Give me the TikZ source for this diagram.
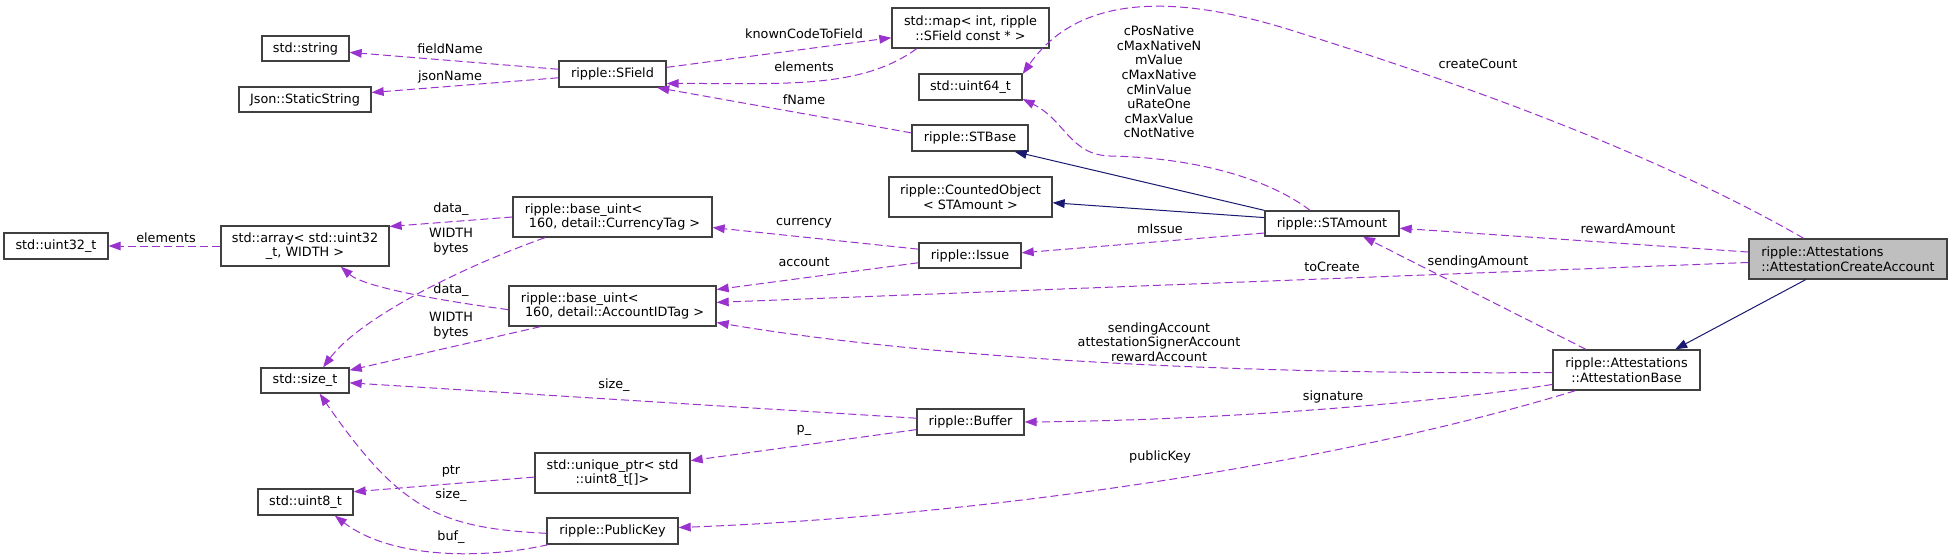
\documentclass[tikz,border=0pt]{standalone}
\usepackage{fontspec}
\setmainfont{DejaVu Sans}
\usepackage{xcolor}
\definecolor{edgepurple}{HTML}{9A32CD}
\definecolor{inheritnavy}{HTML}{191970}
\definecolor{boxborder}{HTML}{404040}
\definecolor{currentfill}{HTML}{BFBFBF}
\usetikzlibrary{arrows.meta, positioning}

\begin{document}
\begin{tikzpicture}[
        x=0.75pt, y=-0.75pt,
        font=\fontsize{9.6}{10.95}\selectfont,
        class_box/.style={
            rectangle,
            draw=boxborder,
            fill=white,
            line width=1pt,
            inner sep=0pt,
            align=center
        },
        current_box/.style={
            class_box,
            fill=currentfill
        },
        box_wh/.style 2 args={
            minimum width=#1*0.75pt,
            minimum height=#2*0.75pt
        },
        member_arrow/.style={
            -{Triangle[length=9pt, width=6.5pt]},
            draw=edgepurple,
            line width=0.75pt,
            dash pattern=on 6pt off 3pt
        },
        inherit_arrow/.style={
            -{Triangle[length=9pt, width=6.5pt]},
            draw=inheritnavy,
            line width=0.75pt
        },
        edge_label/.style={
            inner sep=0pt,
            align=center
        }
    ]

    % Canvas
    \path[fill=white, use as bounding box] (0,0) rectangle (1952,557);

    % Focus class and its base
    \node[current_box, box_wh={198}{40}, align=left] (createacc) at (1848,259) {ripple::Attestations\\::AttestationCreateAccount};
    \node[class_box, box_wh={147}{40}] (attbase) at (1626.5,370) {ripple::Attestations\\::AttestationBase};

    % STAmount column
    \node[class_box, box_wh={134}{25}] (stamount) at (1332,223.5) {ripple::STAmount};

    % Middle column
    \node[class_box, box_wh={157}{40}] (map) at (970.5,28) {std::map< int, ripple\\::SField const * >};
    \node[class_box, box_wh={103}{26}] (uint64) at (970.5,87) {std::uint64\_t};
    \node[class_box, box_wh={116}{26}] (stbase) at (970,138) {ripple::STBase};
    \node[class_box, box_wh={163}{40}] (counted) at (970.5,197) {ripple::CountedObject\\< STAmount >};
    \node[class_box, box_wh={102}{25}] (issue) at (970,255.5) {ripple::Issue};
    \node[class_box, box_wh={107}{26}] (buffer) at (970.5,422) {ripple::Buffer};

    % Second column
    \node[class_box, box_wh={107}{26}] (sfield) at (612.5,74) {ripple::SField};
    \node[class_box, box_wh={199}{40}, align=left] (currency) at (612.5,217) {ripple::base\_uint<\\\ 160, detail::CurrencyTag >};
    \node[class_box, box_wh={207}{40}, align=left] (accountid) at (612.5,306) {ripple::base\_uint<\\\ 160, detail::AccountIDTag >};
    \node[class_box, box_wh={155}{40}] (uniqueptr) at (612.5,473) {std::unique\_ptr< std\\::uint8\_t[]>};
    \node[class_box, box_wh={131}{26}] (publickey) at (612.5,531) {ripple::PublicKey};

    % First column
    \node[class_box, box_wh={87}{25}] (string) at (305.5,48.5) {std::string};
    \node[class_box, box_wh={132}{25}] (json) at (305,99.5) {Json::StaticString};
    \node[class_box, box_wh={168}{40}] (array) at (305,246) {std::array< std::uint32\\\_t, WIDTH >};
    \node[class_box, box_wh={88}{25}] (sizet) at (305,380.5) {std::size\_t};
    \node[class_box, box_wh={95}{26}] (uint8) at (305.5,502) {std::uint8\_t};
    \node[class_box, box_wh={104}{26}] (uint32) at (56,246) {std::uint32\_t};

    % Inheritance
    \draw[inherit_arrow] (createacc.206) -- (attbase.23);
    \draw[inherit_arrow] (stamount.169) -- (stbase.343.5);
    \draw[inherit_arrow] (stamount.175) -- (counted.356);

    % Members of the focus class
    \draw[member_arrow] (createacc.155) .. controls (1650,150) and (1450,80) .. (1300,33)
        .. controls (1180,-6) and (1080,-8) .. (uint64.14);
    \draw[member_arrow] (createacc.176) -- (stamount.356);
    \draw[member_arrow] (createacc.182) -- (accountid.2);

    % Members of AttestationBase
    \draw[member_arrow] (attbase.153) -- (stamount.337);
    \draw[member_arrow] (attbase.182) .. controls (1150,375) and (880,350) .. (accountid.351);
    \draw[member_arrow] (attbase.191) .. controls (1470,398) and (1250,420) .. (buffer.0);
    \draw[member_arrow] (attbase.202) .. controls (1350,460) and (1000,515) .. (publickey.3.5);

    % Members of STAmount and STBase
    \draw[member_arrow] (stamount.149) .. controls (1270,180) and (1200,158) .. (1110,156)
        .. controls (1070,155) and (1065,120) .. (uint64.347);
    \draw[member_arrow] (stamount.188) -- (issue.3);
    \draw[member_arrow] (stbase.175) -- (sfield.343);

    % SField and map
    \draw[member_arrow] (sfield.7) -- (map.187);
    \draw[member_arrow] (map.201) .. controls (860,90) and (780,83) .. (sfield.350);
    \draw[member_arrow] (sfield.175) -- (string.355);
    \draw[member_arrow] (sfield.184) -- (json.6);

    % Issue
    \draw[member_arrow] (issue.173) -- (currency.354);
    \draw[member_arrow] (issue.188) -- (accountid.9);

    % base_uint
    \draw[member_arrow] (currency.180) -- (array.13);
    \draw[member_arrow] (currency.197) .. controls (460,268) and (360,318) .. (sizet.36);
    \draw[member_arrow] (accountid.182) .. controls (450,302) and (365,288) .. (array.330);
    \draw[member_arrow] (accountid.196) -- (sizet.13);
    \draw[member_arrow] (array.west) -- (uint32.east);

    % Buffer and PublicKey
    \draw[member_arrow] (buffer.176) -- (sizet.357);
    \draw[member_arrow] (buffer.188.5) -- (uniqueptr.9.5);
    \draw[member_arrow] (uniqueptr.183) -- (uint8.12);
    \draw[member_arrow] (publickey.182) .. controls (440,528) and (400,510) .. (sizet.318);
    \draw[member_arrow] (publickey.192) .. controls (480,560) and (390,558) .. (uint8.335);

    % Edge labels
    \node[edge_label] (createcount_lbl) at (1478,64) {createCount};
    \node[edge_label] (rewardamount_lbl) at (1628,229) {rewardAmount};
    \node[edge_label] (tocreate_lbl) at (1332,267) {toCreate};
    \node[edge_label] (sendingamount_lbl) at (1478,262) {sendingAmount};
    \node[edge_label] (accounts_lbl) at (1159,342) {sendingAccount\\attestationSignerAccount\\rewardAccount};
    \node[edge_label] (signature_lbl) at (1333,397) {signature};
    \node[edge_label] (publickey_lbl) at (1160,457) {publicKey};
    \node[edge_label] (constants_lbl) at (1159,82) {cPosNative\\cMaxNativeN\\mValue\\cMaxNative\\cMinValue\\uRateOne\\cMaxValue\\cNotNative};
    \node[edge_label] (missue_lbl) at (1160,229) {mIssue};
    \node[edge_label] (knowncode_lbl) at (804,34) {knownCodeToField};
    \node[edge_label] (mapelements_lbl) at (804,67) {elements};
    \node[edge_label] (fname_lbl) at (804,100) {fName};
    \node[edge_label] (currencyfield_lbl) at (804,223) {currency};
    \node[edge_label] (accountfield_lbl) at (804,262) {account};
    \node[edge_label] (pbuf_lbl) at (804,430) {p\_};
    \node[edge_label] (fieldname_lbl) at (450,49) {fieldName};
    \node[edge_label] (jsonname_lbl) at (450,77) {jsonName};
    \node[edge_label] (currencydata_lbl) at (451,209) {data\_};
    \node[edge_label] (currencywidth_lbl) at (451,241.5) {WIDTH\\bytes};
    \node[edge_label] (accountdata_lbl) at (451,290) {data\_};
    \node[edge_label] (accountwidth_lbl) at (451,325.5) {WIDTH\\bytes};
    \node[edge_label] (buffersize_lbl) at (614,385) {size\_};
    \node[edge_label] (ptr_lbl) at (451,471) {ptr};
    \node[edge_label] (keysize_lbl) at (451,495) {size\_};
    \node[edge_label] (buf_lbl) at (451,537) {buf\_};
    \node[edge_label] (arrayelements_lbl) at (166,238) {elements};

\end{tikzpicture}
\end{document}
